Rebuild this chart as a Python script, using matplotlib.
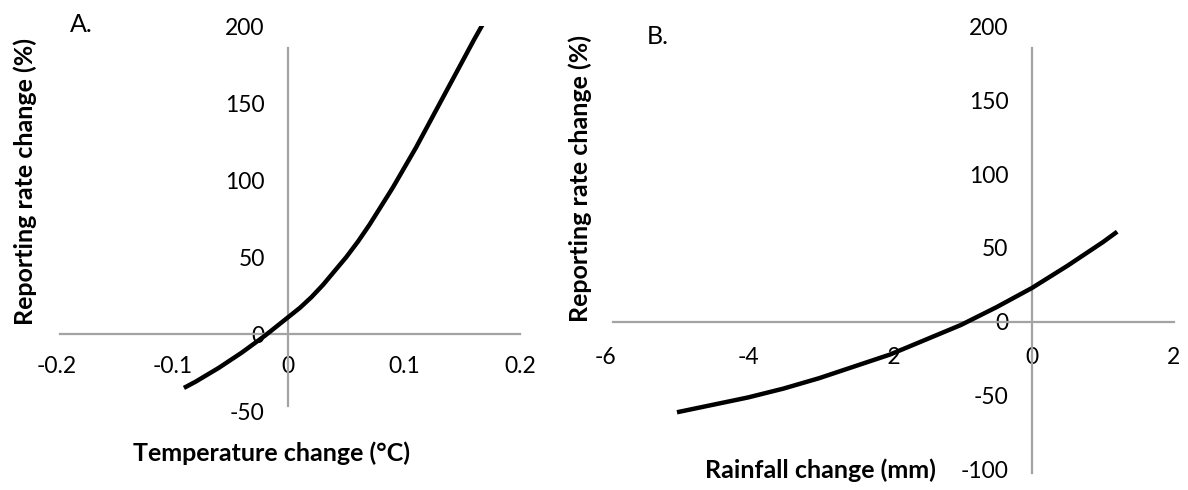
import matplotlib
matplotlib.use("Agg")
import matplotlib.pyplot as plt

plt.rcParams["font.family"] = ["Lato", "DejaVu Sans"]
plt.rcParams["axes.unicode_minus"] = False

# panel A: temperature change (deg C) vs reporting rate change (%)
temp_change = [-0.09, -0.08, -0.07, -0.06, -0.05, -0.04, -0.03, -0.02, -0.01, 0.0,
               0.01, 0.02, 0.03, 0.04, 0.05, 0.06, 0.07, 0.08, 0.09, 0.10,
               0.11, 0.12, 0.13, 0.14, 0.15, 0.16, 0.1675]
temp_rate = [-35, -31, -26.5, -22, -17, -12, -6.5, -1, 5, 11,
             17, 24, 32, 41, 50, 60, 71, 83, 95, 108,
             121, 135, 149, 163, 177, 191, 201]

# panel B: rainfall change (mm) vs reporting rate change (%)
rain_change = [-5.0, -4.5, -4.0, -3.5, -3.0, -2.5, -2.0, -1.5, -1.0, -0.5,
               0.0, 0.5, 1.0, 1.2]
rain_rate = [-61, -56, -51, -45, -38, -30, -22, -12, -2, 10,
             23, 38, 54, 61]

temp_xticks = [-0.2, -0.1, 0, 0.1, 0.2]
temp_xlabels = ["-0.2", "-0.1", "0", "0.1", "0.2"]
temp_yticks = [-50, 0, 50, 100, 150, 200]
rain_xticks = [-6, -4, -2, 0, 2]
rain_yticks = [-100, -50, 0, 50, 100, 150, 200]

AXIS_GREY = "#a3a3a3"
TICK_SIZE = 16.5
LABEL_SIZE = 18


def style_axes(ax, xticks, xlabels, yticks, xbounds, ybounds, xpad):
    for s in ("top", "right"):
        ax.spines[s].set_visible(False)
    ax.spines["left"].set_position(("data", 0))
    ax.spines["bottom"].set_position(("data", 0))
    for s in ("left", "bottom"):
        ax.spines[s].set_color(AXIS_GREY)
        ax.spines[s].set_linewidth(1.6)
    ax.spines["bottom"].set_bounds(*xbounds)
    ax.spines["left"].set_bounds(*ybounds)
    ax.set_xticks(xticks, xlabels)
    ax.set_yticks(yticks, [str(v) for v in yticks])
    ax.tick_params(axis="both", length=0, labelsize=TICK_SIZE, labelcolor="black")
    ax.tick_params(axis="x", pad=xpad)
    ax.tick_params(axis="y", pad=17)
    ax.patch.set_alpha(0)


fig = plt.figure(figsize=(11.88, 4.9), dpi=100)

# --- A. temperature
axA = fig.add_axes([0.0474, 0.1612, 0.3906, 0.7857])
axA.plot(temp_change, temp_rate, color="black", lw=3.2, zorder=3,
         solid_capstyle="butt", solid_joinstyle="round")
axA.set_xlim(-0.2, 0.2)
axA.set_ylim(-50, 200)
style_axes(axA, temp_xticks, temp_xlabels, temp_yticks,
           (-0.197, 0.2), (-47, 186), xpad=16)
axA.set_xlabel("Temperature change (°C)", fontsize=LABEL_SIZE, fontweight="bold", va="center")
axA.xaxis.set_label_coords(0.4627, -0.109)
axA.set_ylabel("Reporting rate change (%)", fontsize=LABEL_SIZE, fontweight="bold", va="center")
axA.yaxis.set_label_coords(-0.0675, 0.595)
fig.text(81 / 1188, 1 - 25 / 490, "A.", fontsize=18, ha="center", va="center")

# --- B. rainfall
axB = fig.add_axes([0.5101, 0.0318, 0.4781, 0.9151])
axB.plot(rain_change, rain_rate, color="black", lw=3.2, zorder=3,
         solid_capstyle="butt", solid_joinstyle="round")
axB.set_xlim(-6, 2)
axB.set_ylim(-103, 200)
style_axes(axB, rain_xticks, [str(v) for v in rain_xticks], rain_yticks,
           (-5.9, 2.0), (-102, 185), xpad=18)
axB.set_xlabel("Rainfall change (mm)", fontsize=LABEL_SIZE, fontweight="bold", va="center")
axB.xaxis.set_label_coords(0.3768, 0.0098)
axB.set_ylabel("Reporting rate change (%)", fontsize=LABEL_SIZE, fontweight="bold", va="center")
axB.yaxis.set_label_coords(-0.0458, 0.661)
fig.text(658 / 1188, 1 - 37 / 490, "B.", fontsize=18, ha="center", va="center")

fig.savefig("out.png", dpi=100)
